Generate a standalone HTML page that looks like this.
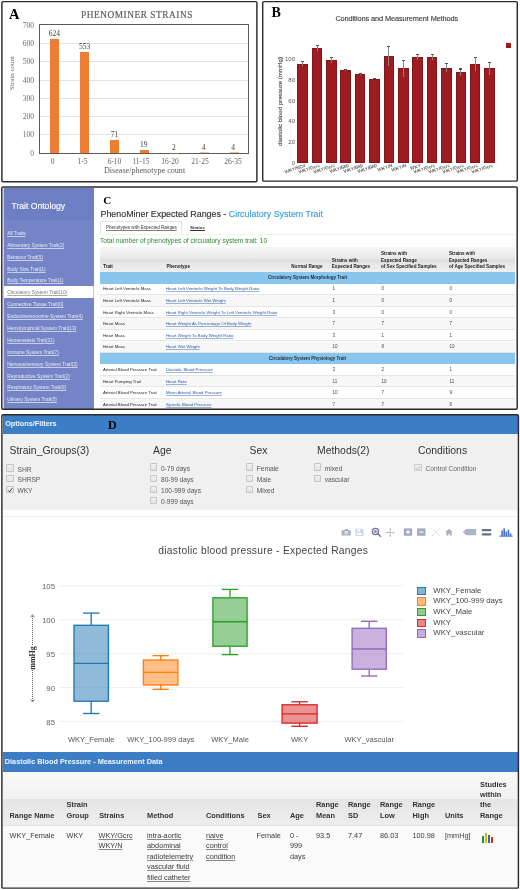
<!DOCTYPE html>
<html><head><meta charset="utf-8">
<style>
*{margin:0;padding:0;box-sizing:border-box}
html,body{width:520px;height:890px;overflow:hidden;background:#fff}
body{position:relative;font-family:"Liberation Sans",sans-serif;filter:blur(0.3px)}
.a{position:absolute}
.serif{font-family:"Liberation Serif",serif}
.box{position:absolute;border:2px solid #333}
/* panel A */
#pa .yt{position:absolute;width:20px;text-align:right;font-size:7.5px;color:#6a6a6a;line-height:8px}
#pa .xt{position:absolute;width:30px;text-align:center;font-size:7.5px;color:#606060;line-height:8px}
#pa .bar{position:absolute;background:#ed7d31;width:9.3px}
#pa .vl{position:absolute;width:30px;text-align:center;font-size:7.5px;color:#404040;line-height:8px}
#pa .gl{position:absolute;left:40px;width:208px;height:1px;background:#e2e2e2}
/* panel B */
#pb .bar{position:absolute;background:#9d1c21;width:10.6px;border:0.5px solid #84161a}
#pb .eb{position:absolute;width:1px;background:#858585}
#pb .ec{position:absolute;width:3px;height:1.2px;background:#555}
#pb .yt{position:absolute;width:20px;text-align:right;font-size:6px;color:#555;line-height:7px}
#pb .xl{position:absolute;font-size:4.7px;color:#222;white-space:nowrap;transform-origin:100% 0;transform:rotate(-18deg)}

/* panel C */
#pc .sb{position:absolute;left:7.2px;font-size:4.85px;color:#e6e9f8;text-decoration:underline;text-decoration-color:rgba(255,255,255,0.6);white-space:nowrap;line-height:6px}
#pc .th{position:absolute;font-size:4.6px;font-weight:bold;color:#222;line-height:6.2px;white-space:nowrap}
#pc .td{position:absolute;font-size:4.3px;color:#222;white-space:nowrap;line-height:6px}
#pc .lk{position:absolute;font-size:4.3px;color:#2858a8;text-decoration:underline;text-decoration-color:rgba(40,88,168,0.45);white-space:nowrap;line-height:6px}
#pc .num{position:absolute;font-size:4.5px;color:#444;line-height:6px}
#pc .row{position:absolute;left:100px;width:415px;height:11.6px;border-bottom:0.6px solid #e6e6e6}
#pc .sec{position:absolute;left:100px;width:415px;background:#88c6ee}
#pc .sect{position:absolute;left:100px;width:415px;text-align:center;font-size:4.5px;font-weight:bold;color:#1a2a3a;line-height:6px}

/* panel D */
#pd .og{position:absolute;font-size:10.4px;color:#333;white-space:nowrap;line-height:12px}
#pd .cb{position:absolute;width:7.3px;height:7.3px;border:0.9px solid #c6c6c6;background:linear-gradient(#f2f2f2,#e2e2e2);border-radius:0.8px}
#pd .cl{position:absolute;font-size:6.6px;color:#555;white-space:nowrap;line-height:8px}
#pd .yt{position:absolute;width:20px;text-align:right;font-size:7.8px;color:#606060;line-height:8px}
#pd .gl{position:absolute;left:59px;width:345px;height:0.8px;background:#eee}
#pd .xt{position:absolute;width:80px;text-align:center;font-size:7.55px;color:#555;line-height:8px;white-space:nowrap}
#pd .lg{position:absolute;left:417.4px;width:8.4px;height:8.4px;border:1.2px solid}
#pd .lt{position:absolute;left:433.3px;font-size:7.8px;color:#444;white-space:nowrap;line-height:8px}
#pd .hh{position:absolute;font-size:7.4px;font-weight:bold;color:#333;line-height:10.4px;white-space:nowrap}
#pd .dd{position:absolute;font-size:7.3px;color:#3a3a3a;line-height:10.5px;white-space:nowrap;top:830.5px}
#pd .du{text-decoration:underline;text-decoration-color:rgba(0,0,0,0.45)}
</style></head><body>

<!-- ============ PANEL A ============ -->
<div id="pa">
  <div class="a serif" style="left:9px;top:5.5px;font-size:14.5px;font-weight:bold;color:#000">A</div>
  <div class="a serif" style="left:81px;top:10.2px;font-size:9.3px;color:#5e5e5e;letter-spacing:0.55px;-webkit-text-stroke:0.2px #5e5e5e">PHENOMINER STRAINS</div>
  <!-- gridlines -->
  <div class="gl" style="top:43px"></div>
  <div class="gl" style="top:61px"></div>
  <div class="gl" style="top:80px"></div>
  <div class="gl" style="top:98px"></div>
  <div class="gl" style="top:116px"></div>
  <div class="gl" style="top:134px"></div>
  <!-- plot border -->
  <div class="a" style="left:39px;top:24px;width:210px;height:130px;border:1.2px solid #5a5a5a"></div>
  <!-- y ticks -->
  <div class="yt serif" style="left:14px;top:22.2px">700</div>
  <div class="yt serif" style="left:14px;top:40.2px">600</div>
  <div class="yt serif" style="left:14px;top:58.2px">500</div>
  <div class="yt serif" style="left:14px;top:77.2px">400</div>
  <div class="yt serif" style="left:14px;top:95.2px">300</div>
  <div class="yt serif" style="left:14px;top:113.2px">200</div>
  <div class="yt serif" style="left:14px;top:131.2px">100</div>
  <div class="yt serif" style="left:14px;top:150.2px">0</div>
  <!-- bars -->
  <div class="bar" style="left:49.6px;top:38.6px;height:114.4px"></div>
  <div class="bar" style="left:79.8px;top:51.6px;height:101.4px"></div>
  <div class="bar" style="left:109.8px;top:140px;height:13px"></div>
  <div class="bar" style="left:139.9px;top:149.5px;height:3.5px"></div>
  <div class="bar" style="left:169.9px;top:152.6px;height:0.6px;opacity:.5"></div>
  <div class="bar" style="left:199.9px;top:152.3px;height:0.8px;opacity:.5"></div>
  <div class="bar" style="left:229.9px;top:152.3px;height:0.8px;opacity:.5"></div>
  <!-- value labels -->
  <div class="vl serif" style="left:39.3px;top:30.2px">624</div>
  <div class="vl serif" style="left:69.5px;top:43.2px">553</div>
  <div class="vl serif" style="left:99.4px;top:131.2px">71</div>
  <div class="vl serif" style="left:128.8px;top:141.2px">19</div>
  <div class="vl serif" style="left:158.8px;top:144.2px">2</div>
  <div class="vl serif" style="left:188.5px;top:144.2px">4</div>
  <div class="vl serif" style="left:218.2px;top:144.2px">4</div>
  <!-- x ticks -->
  <div class="xt serif" style="left:37.5px;top:158.2px">0</div>
  <div class="xt serif" style="left:67.5px;top:158.2px">1-5</div>
  <div class="xt serif" style="left:99.5px;top:158.2px">6-10</div>
  <div class="xt serif" style="left:126px;top:158.2px">11-15</div>
  <div class="xt serif" style="left:155px;top:158.2px">16-20</div>
  <div class="xt serif" style="left:185px;top:158.2px">21-25</div>
  <div class="xt serif" style="left:218px;top:158.2px">26-35</div>
  <div class="a serif" style="left:104px;top:165.5px;font-size:8.1px;color:#595959">Disease/phenotype count</div>
  <div class="a serif" style="left:-9.7px;top:68.8px;width:44px;text-align:center;font-size:7px;color:#606060;transform:rotate(-90deg)">Strain count</div>
</div>

<!-- ============ PANEL B ============ -->
<div id="pb">
  <div class="a serif" style="left:271.5px;top:4.5px;font-size:14px;font-weight:bold;color:#000">B</div>
  <div class="a" style="left:335.4px;top:14px;font-size:7.35px;color:#3a3a3a;letter-spacing:-0.1px;-webkit-text-stroke:0.12px #3a3a3a">Conditions and Measurement Methods</div>

  <div class="yt" style="left:275px;top:56.4px">100</div>
  <div class="yt" style="left:275px;top:77.1px">80</div>
  <div class="yt" style="left:275px;top:97.8px">60</div>
  <div class="yt" style="left:275px;top:118.4px">40</div>
  <div class="yt" style="left:275px;top:139.1px">20</div>
  <div class="yt" style="left:275px;top:159.8px">0</div>
  <div class="a" style="left:234px;top:98px;width:90px;text-align:center;font-size:6.2px;color:#444;-webkit-text-stroke:0.1px #444;transform:rotate(-90deg);white-space:nowrap">diastolic blood pressure (mmHg)</div>
  <div class="a" style="left:506px;top:43px;width:5px;height:5px;background:#9b1b1f"></div>
  <div class="bar" style="left:297.3px;top:63.6px;height:99.1px"></div>
  <div class="bar" style="left:311.7px;top:48.3px;height:114.4px"></div>
  <div class="bar" style="left:326.1px;top:59.8px;height:102.9px"></div>
  <div class="bar" style="left:340.4px;top:70.1px;height:92.6px"></div>
  <div class="bar" style="left:354.8px;top:73.7px;height:89.0px"></div>
  <div class="bar" style="left:369.2px;top:78.6px;height:84.1px"></div>
  <div class="bar" style="left:383.6px;top:56px;height:106.7px"></div>
  <div class="bar" style="left:398.0px;top:68.4px;height:94.3px"></div>
  <div class="bar" style="left:412.3px;top:57px;height:105.7px"></div>
  <div class="bar" style="left:426.7px;top:57px;height:105.7px"></div>
  <div class="bar" style="left:441.1px;top:67.6px;height:95.1px"></div>
  <div class="bar" style="left:455.5px;top:72px;height:90.7px"></div>
  <div class="bar" style="left:469.9px;top:64px;height:98.7px"></div>
  <div class="bar" style="left:484.2px;top:68.2px;height:94.5px"></div>
  <div class="eb" style="left:302.1px;top:60.8px;height:5.6px"></div><div class="ec" style="left:301.1px;top:60.8px"></div>
  <div class="eb" style="left:316.5px;top:45.2px;height:6.2px"></div><div class="ec" style="left:315.5px;top:45.2px"></div>
  <div class="eb" style="left:330.9px;top:57px;height:5.6px"></div><div class="ec" style="left:329.9px;top:57px"></div>
  <div class="eb" style="left:345.2px;top:68.8px;height:2.6px"></div><div class="ec" style="left:344.2px;top:68.8px"></div>
  <div class="eb" style="left:359.6px;top:72.7px;height:2.0px"></div><div class="ec" style="left:358.6px;top:72.7px"></div>
  <div class="eb" style="left:374.0px;top:77.7px;height:1.8px"></div><div class="ec" style="left:373.0px;top:77.7px"></div>
  <div class="eb" style="left:388.4px;top:46px;height:20.0px"></div><div class="ec" style="left:387.4px;top:46px"></div>
  <div class="eb" style="left:402.8px;top:60px;height:16.8px"></div><div class="ec" style="left:401.8px;top:60px"></div>
  <div class="eb" style="left:417.1px;top:54px;height:6.0px"></div><div class="ec" style="left:416.1px;top:54px"></div>
  <div class="eb" style="left:431.5px;top:54px;height:6.0px"></div><div class="ec" style="left:430.5px;top:54px"></div>
  <div class="eb" style="left:445.9px;top:63.3px;height:8.6px"></div><div class="ec" style="left:444.9px;top:63.3px"></div>
  <div class="eb" style="left:460.3px;top:68.4px;height:7.2px"></div><div class="ec" style="left:459.3px;top:68.4px"></div>
  <div class="eb" style="left:474.7px;top:56.6px;height:14.8px"></div><div class="ec" style="left:473.7px;top:56.6px"></div>
  <div class="eb" style="left:489.0px;top:61.7px;height:13.0px"></div><div class="ec" style="left:488.0px;top:61.7px"></div>
  <div class="xl" style="right:215.4px;top:162.5px">WKY/NCrl</div>
  <div class="xl" style="right:201.0px;top:162.5px">WKY/Gcrc</div>
  <div class="xl" style="right:186.6px;top:162.5px">WKY/Gcrc</div>
  <div class="xl" style="right:172.3px;top:162.5px">WKY/Bkb</div>
  <div class="xl" style="right:157.9px;top:162.5px">WKY/Bkb</div>
  <div class="xl" style="right:143.5px;top:162.5px">WKY/Bkb</div>
  <div class="xl" style="right:129.1px;top:162.5px">WKY/N</div>
  <div class="xl" style="right:114.7px;top:162.5px">WKY/N</div>
  <div class="xl" style="right:100.4px;top:162.5px">WKY</div>
  <div class="xl" style="right:86.0px;top:162.5px">WKY/Gcrc</div>
  <div class="xl" style="right:71.6px;top:162.5px">WKY/Gcrc</div>
  <div class="xl" style="right:57.2px;top:162.5px">WKY/Gcrc</div>
  <div class="xl" style="right:42.8px;top:162.5px">WKY/Gcrc</div>
  <div class="xl" style="right:28.5px;top:162.5px">WKY/Gcrc</div>
</div>

<div id="pc">
  <div class="a" style="left:2.5px;top:188px;width:1.5px;height:220.5px;background:#c9cdef"></div>
  <div class="a" style="left:4px;top:188px;width:90.2px;height:31.5px;background:#6e7ec2"></div>
  <div class="a" style="left:4px;top:219.5px;width:90.2px;height:66.3px;background:#7484c6"></div>
  <div class="a" style="left:4px;top:285.8px;width:90.2px;height:12.5px;background:#fff;border-right:0.6px solid #ccc"></div>
  <div class="a" style="left:4px;top:298.3px;width:90.2px;height:110.5px;background:#7484c6"></div>
  <div class="a" style="left:11.5px;top:200.7px;font-size:8.6px;color:#f4f5fc;-webkit-text-stroke:0.2px #f4f5fc">Trait Ontology</div>
  <div class="sb" style="top:230.8px">All Traits</div>
  <div class="sb" style="top:242.8px">Alimentary System Trait(2)</div>
  <div class="sb" style="top:254.8px">Behavior Trait(5)</div>
  <div class="sb" style="top:266.6px">Body Size Trait(1)</div>
  <div class="sb" style="top:278.4px">Body Temperature Trait(1)</div>
  <div class="sb" style="top:290.3px;color:#777;text-decoration-color:#aaa">Circulatory System Trait(10)</div>
  <div class="sb" style="top:302.4px">Connective Tissue Trait(0)</div>
  <div class="sb" style="top:314.3px">Endocrine/exocrine System Trait(4)</div>
  <div class="sb" style="top:325.8px">Hemolymphoid System Trait(13)</div>
  <div class="sb" style="top:337.8px">Homeostasis Trait(31)</div>
  <div class="sb" style="top:349.8px">Immune System Trait(7)</div>
  <div class="sb" style="top:361.8px">Nervous/sensory System Trait(2)</div>
  <div class="sb" style="top:373.6px">Reproductive System Trait(2)</div>
  <div class="sb" style="top:385.1px">Respiratory System Trait(0)</div>
  <div class="sb" style="top:397.0px">Urinary System Trait(5)</div>
  <div class="a serif" style="left:103.3px;top:194px;font-size:11px;font-weight:bold;color:#000">C</div>
  <div class="a" style="left:100.5px;top:208.6px;font-size:8.9px;color:#333;white-space:nowrap;-webkit-text-stroke:0.15px">PhenoMiner Expected Ranges - <span style="color:#3aa2dc">Circulatory System Trait</span></div>
  <div class="a" style="left:99.6px;top:221.4px;width:82.7px;height:12.9px;border:0.7px solid #e2e2e2;border-bottom:none;background:#fff"></div>
  <div class="a" style="left:100.8px;top:233.9px;width:414px;height:0.6px;background:#f0f0f0"></div>
  <div class="a" style="left:106px;top:225px;font-size:4.57px;color:#333;text-decoration:underline;text-decoration-color:rgba(0,0,0,0.5);white-space:nowrap">Phenotypes with Expected Ranges</div>
  <div class="a" style="left:190px;top:225px;font-size:4.4px;font-weight:bold;color:#333;text-decoration:underline;white-space:nowrap">Strains</div>
  <div class="a" style="left:100px;top:237px;font-size:6.6px;color:#2d8a2d;white-space:nowrap">Total number of phenotypes of circulatory system trait: 10</div>
  <div class="a" style="left:100px;top:246.5px;width:415px;height:25px;background:linear-gradient(#f6f6f6 0%,#ebebeb 40%,#dfdfdf 56%,#eaeaea 75%,#eeeeee 100%)"></div>
  <div class="th" style="left:103.2px;top:263.8px">Trait</div>
  <div class="th" style="left:166.5px;top:263.8px">Phenotype</div>
  <div class="th" style="left:291.3px;top:263.8px">Normal Range</div>
  <div class="th" style="left:331.8px;top:257.6px">Strains with<br>Expected Ranges</div>
  <div class="th" style="left:381px;top:251.4px">Strains with<br>Expected Range<br>of Sex Specified Samples</div>
  <div class="th" style="left:449px;top:251.4px">Strains with<br>Expected Ranges<br>of Age Specified Samples</div>
  <div class="sec" style="top:271.5px;height:12px"></div>
  <div class="sect" style="top:274.6px">Circulatory System Morphology Trait</div>
  <div class="row" style="top:283.5px;background:#fff"></div>
  <div class="td" style="left:103px;top:286.4px">Heart Left Ventricle Mass</div>
  <div class="lk" style="left:166px;top:286.4px">Heart Left Ventricle Weight To Body Weight Ratio</div>
  <div class="num" style="left:332.5px;top:286.4px">1</div>
  <div class="num" style="left:381.5px;top:286.4px">0</div>
  <div class="num" style="left:449.5px;top:286.4px">0</div>
  <div class="row" style="top:295.1px;background:#f7f7f7"></div>
  <div class="td" style="left:103px;top:298.0px">Heart Left Ventricle Mass</div>
  <div class="lk" style="left:166px;top:298.0px">Heart Left Ventricle Wet Weight</div>
  <div class="num" style="left:332.5px;top:298.0px">1</div>
  <div class="num" style="left:381.5px;top:298.0px">0</div>
  <div class="num" style="left:449.5px;top:298.0px">0</div>
  <div class="row" style="top:306.7px;background:#fff"></div>
  <div class="td" style="left:103px;top:309.6px">Heart Right Ventricle Mass</div>
  <div class="lk" style="left:166px;top:309.6px">Heart Right Ventricle Weight To Left Ventricle Weight Ratio</div>
  <div class="num" style="left:332.5px;top:309.6px">3</div>
  <div class="num" style="left:381.5px;top:309.6px">0</div>
  <div class="num" style="left:449.5px;top:309.6px">0</div>
  <div class="row" style="top:318.3px;background:#f7f7f7"></div>
  <div class="td" style="left:103px;top:321.2px">Heart Mass</div>
  <div class="lk" style="left:166px;top:321.2px">Heart Weight As Percentage Of Body Weight</div>
  <div class="num" style="left:332.5px;top:321.2px">7</div>
  <div class="num" style="left:381.5px;top:321.2px">7</div>
  <div class="num" style="left:449.5px;top:321.2px">7</div>
  <div class="row" style="top:329.9px;background:#fff"></div>
  <div class="td" style="left:103px;top:332.8px">Heart Mass</div>
  <div class="lk" style="left:166px;top:332.8px">Heart Weight To Body Weight Ratio</div>
  <div class="num" style="left:332.5px;top:332.8px">3</div>
  <div class="num" style="left:381.5px;top:332.8px">1</div>
  <div class="num" style="left:449.5px;top:332.8px">1</div>
  <div class="row" style="top:341.5px;background:#f7f7f7"></div>
  <div class="td" style="left:103px;top:344.4px">Heart Mass</div>
  <div class="lk" style="left:166px;top:344.4px">Heart Wet Weight</div>
  <div class="num" style="left:332.5px;top:344.4px">10</div>
  <div class="num" style="left:381.5px;top:344.4px">8</div>
  <div class="num" style="left:449.5px;top:344.4px">10</div>
  <div class="sec" style="top:353.1px;height:11px"></div>
  <div class="sect" style="top:355.6px">Circulatory System Physiology Trait</div>
  <div class="row" style="top:364.1px;background:#fff"></div>
  <div class="td" style="left:103px;top:367.0px">Arterial Blood Pressure Trait</div>
  <div class="lk" style="left:166px;top:367.0px">Diastolic Blood Pressure</div>
  <div class="num" style="left:332.5px;top:367.0px">3</div>
  <div class="num" style="left:381.5px;top:367.0px">2</div>
  <div class="num" style="left:449.5px;top:367.0px">1</div>
  <div class="row" style="top:375.7px;background:#f7f7f7"></div>
  <div class="td" style="left:103px;top:378.6px">Heart Pumping Trait</div>
  <div class="lk" style="left:166px;top:378.6px">Heart Rate</div>
  <div class="num" style="left:332.5px;top:378.6px">11</div>
  <div class="num" style="left:381.5px;top:378.6px">10</div>
  <div class="num" style="left:449.5px;top:378.6px">11</div>
  <div class="row" style="top:387.3px;background:#fff"></div>
  <div class="td" style="left:103px;top:390.2px">Arterial Blood Pressure Trait</div>
  <div class="lk" style="left:166px;top:390.2px">Mean Arterial Blood Pressure</div>
  <div class="num" style="left:332.5px;top:390.2px">10</div>
  <div class="num" style="left:381.5px;top:390.2px">7</div>
  <div class="num" style="left:449.5px;top:390.2px">9</div>
  <div class="row" style="top:398.9px;background:#f7f7f7"></div>
  <div class="td" style="left:103px;top:401.8px">Arterial Blood Pressure Trait</div>
  <div class="lk" style="left:166px;top:401.8px">Systolic Blood Pressure</div>
  <div class="num" style="left:332.5px;top:401.8px">7</div>
  <div class="num" style="left:381.5px;top:401.8px">7</div>
  <div class="num" style="left:449.5px;top:401.8px">6</div>
</div>
<div id="pd">
  <div class="a" style="left:1px;top:414px;width:518px;height:476px;background:#fff"></div>
  <div class="a" style="left:2.6px;top:415.2px;width:515.4px;height:18.7px;background:#3b7ec6"></div>
  <div class="a" style="left:5.2px;top:419.2px;font-size:7.3px;font-weight:bold;color:#f0f6ff;white-space:nowrap">Options/Filters</div>
  <div class="a serif" style="left:108px;top:417.5px;font-size:12px;font-weight:bold;color:#000">D</div>
  <div class="a" style="left:2.6px;top:433.9px;width:514px;height:76.5px;background:#f0f0f0"></div>
  <div class="a" style="left:2.6px;top:516px;width:514px;height:0.8px;background:#ededed"></div>
  <div class="og" style="left:9.5px;top:445px">Strain_Groups(3)</div>
  <div class="og" style="left:153px;top:445px">Age</div>
  <div class="og" style="left:249.5px;top:445px">Sex</div>
  <div class="og" style="left:317px;top:445px">Methods(2)</div>
  <div class="og" style="left:418px;top:445px">Conditions</div>
  <div class="cb" style="left:6.3px;top:464.4px"></div>
  <div class="cl" style="left:17.5px;top:465.9px">SHR</div>
  <div class="cb" style="left:6.3px;top:474.6px"></div>
  <div class="cl" style="left:17.5px;top:476.1px">SHRSP</div>
  <div class="cb" style="left:6.3px;top:485.8px"><svg width="6" height="6" viewBox="0 0 6 6" style="position:absolute;left:0;top:0"><path d="M1.2 3.4 L2.6 4.9 L5.2 1.2" stroke="#2a3050" stroke-width="0.9" fill="none"/></svg></div>
  <div class="cl" style="left:17.5px;top:487.3px">WKY</div>
  <div class="cb" style="left:149.8px;top:463.4px"></div>
  <div class="cl" style="left:161.0px;top:464.9px">0-79 days</div>
  <div class="cb" style="left:149.8px;top:474.6px"></div>
  <div class="cl" style="left:161.0px;top:476.1px">80-99 days</div>
  <div class="cb" style="left:149.8px;top:485.6px"></div>
  <div class="cl" style="left:161.0px;top:487.1px">100-999 days</div>
  <div class="cb" style="left:149.8px;top:496.6px"></div>
  <div class="cl" style="left:161.0px;top:498.1px">0-999 days</div>
  <div class="cb" style="left:245.6px;top:463.4px"></div>
  <div class="cl" style="left:256.8px;top:464.9px">Female</div>
  <div class="cb" style="left:245.6px;top:474.6px"></div>
  <div class="cl" style="left:256.8px;top:476.1px">Male</div>
  <div class="cb" style="left:245.6px;top:485.6px"></div>
  <div class="cl" style="left:256.8px;top:487.1px">Mixed</div>
  <div class="cb" style="left:313.6px;top:463.4px"></div>
  <div class="cl" style="left:324.8px;top:464.9px">mixed</div>
  <div class="cb" style="left:313.6px;top:474.6px"></div>
  <div class="cl" style="left:324.8px;top:476.1px">vascular</div>
  <div class="cb" style="left:414.3px;top:463.8px;border-color:#ccc"><svg width="6" height="6" viewBox="0 0 6 6" style="position:absolute;left:0;top:0"><path d="M0.8 3.2 L2.3 4.7 L5.2 1" stroke="#bbb" stroke-width="0.9" fill="none"/></svg></div>
  <div class="cl" style="left:425.5px;top:465.3px;color:#666">Control Condition</div>
<svg class="a" style="left:0;top:0" width="520" height="890" viewBox="0 0 520 890">
<line x1="59" x2="403.3" y1="585.9" y2="585.9" stroke="#eee" stroke-width="0.9"/>
<line x1="59" x2="403.3" y1="619.8" y2="619.8" stroke="#eee" stroke-width="0.9"/>
<line x1="59" x2="403.3" y1="653.7" y2="653.7" stroke="#eee" stroke-width="0.9"/>
<line x1="59" x2="403.3" y1="687.5" y2="687.5" stroke="#eee" stroke-width="0.9"/>
<line x1="59" x2="403.3" y1="721.4" y2="721.4" stroke="#eee" stroke-width="0.9"/>
<rect x="74" y="625.3" width="34.4" height="75.9" fill="rgba(31,119,180,0.5)" stroke="rgb(31,119,180)" stroke-width="1.35"/>
<line x1="74" x2="108.4" y1="663.3" y2="663.3" stroke="rgb(31,119,180)" stroke-width="1.35"/>
<line x1="91.2" x2="91.2" y1="613.1" y2="625.3" stroke="rgb(31,119,180)" stroke-width="1.35"/>
<line x1="91.2" x2="91.2" y1="701.2" y2="713.5" stroke="rgb(31,119,180)" stroke-width="1.35"/>
<line x1="83.0" x2="99.4" y1="613.1" y2="613.1" stroke="rgb(31,119,180)" stroke-width="1.35"/>
<line x1="83.0" x2="99.4" y1="713.5" y2="713.5" stroke="rgb(31,119,180)" stroke-width="1.35"/>
<rect x="143.4" y="660" width="34.5" height="25.0" fill="rgba(255,127,14,0.5)" stroke="rgb(255,127,14)" stroke-width="1.35"/>
<line x1="143.4" x2="177.9" y1="672.4" y2="672.4" stroke="rgb(255,127,14)" stroke-width="1.35"/>
<line x1="160.7" x2="160.7" y1="655.7" y2="660" stroke="rgb(255,127,14)" stroke-width="1.35"/>
<line x1="160.7" x2="160.7" y1="685" y2="689.3" stroke="rgb(255,127,14)" stroke-width="1.35"/>
<line x1="152.5" x2="168.8" y1="655.7" y2="655.7" stroke="rgb(255,127,14)" stroke-width="1.35"/>
<line x1="152.5" x2="168.8" y1="689.3" y2="689.3" stroke="rgb(255,127,14)" stroke-width="1.35"/>
<rect x="212.9" y="597.8" width="34.2" height="48.4" fill="rgba(44,160,44,0.5)" stroke="rgb(44,160,44)" stroke-width="1.35"/>
<line x1="212.9" x2="247.1" y1="621.7" y2="621.7" stroke="rgb(44,160,44)" stroke-width="1.35"/>
<line x1="230.0" x2="230.0" y1="589.4" y2="597.8" stroke="rgb(44,160,44)" stroke-width="1.35"/>
<line x1="230.0" x2="230.0" y1="646.2" y2="654.6" stroke="rgb(44,160,44)" stroke-width="1.35"/>
<line x1="221.8" x2="238.2" y1="589.4" y2="589.4" stroke="rgb(44,160,44)" stroke-width="1.35"/>
<line x1="221.8" x2="238.2" y1="654.6" y2="654.6" stroke="rgb(44,160,44)" stroke-width="1.35"/>
<rect x="282.1" y="704.8" width="35.0" height="18.3" fill="rgba(214,39,40,0.5)" stroke="rgb(214,39,40)" stroke-width="1.35"/>
<line x1="282.1" x2="317.1" y1="713.9" y2="713.9" stroke="rgb(214,39,40)" stroke-width="1.35"/>
<line x1="299.6" x2="299.6" y1="701.8" y2="704.8" stroke="rgb(214,39,40)" stroke-width="1.35"/>
<line x1="299.6" x2="299.6" y1="723.1" y2="726.3" stroke="rgb(214,39,40)" stroke-width="1.35"/>
<line x1="291.4" x2="307.8" y1="701.8" y2="701.8" stroke="rgb(214,39,40)" stroke-width="1.35"/>
<line x1="291.4" x2="307.8" y1="726.3" y2="726.3" stroke="rgb(214,39,40)" stroke-width="1.35"/>
<rect x="352.1" y="628.3" width="34.2" height="40.9" fill="rgba(148,103,189,0.5)" stroke="rgb(148,103,189)" stroke-width="1.35"/>
<line x1="352.1" x2="386.3" y1="649" y2="649" stroke="rgb(148,103,189)" stroke-width="1.35"/>
<line x1="369.2" x2="369.2" y1="621.3" y2="628.3" stroke="rgb(148,103,189)" stroke-width="1.35"/>
<line x1="369.2" x2="369.2" y1="669.2" y2="676" stroke="rgb(148,103,189)" stroke-width="1.35"/>
<line x1="361.0" x2="377.4" y1="621.3" y2="621.3" stroke="rgb(148,103,189)" stroke-width="1.35"/>
<line x1="361.0" x2="377.4" y1="676" y2="676" stroke="rgb(148,103,189)" stroke-width="1.35"/>
</svg>
  <div class="yt" style="left:35px;top:583.0px">105</div>
  <div class="yt" style="left:35px;top:616.9px">100</div>
  <div class="yt" style="left:35px;top:650.8px">95</div>
  <div class="yt" style="left:35px;top:684.6px">90</div>
  <div class="yt" style="left:35px;top:718.5px">85</div>
  <div class="xt" style="left:51.2px;top:735.8px">WKY_Female</div>
  <div class="xt" style="left:120.7px;top:735.8px">WKY_100-999 days</div>
  <div class="xt" style="left:190.0px;top:735.8px">WKY_Male</div>
  <div class="xt" style="left:259.6px;top:735.8px">WKY</div>
  <div class="xt" style="left:329.2px;top:735.8px">WKY_vascular</div>
  <div class="a serif" style="left:12.5px;top:653.5px;width:40px;text-align:center;font-size:8px;font-weight:bold;color:#333;transform:rotate(-90deg);transform-origin:20px 4px;left:12.8px;white-space:nowrap;line-height:8px">mmHg</div>
  <svg class="a" style="left:0;top:0" width="520" height="890" viewBox="0 0 520 890"><g stroke="#666" stroke-width="1" fill="none"><path d="M32.5 616 V645 M32.5 670 V701" stroke-dasharray="1 1"/><path d="M30.6 617.3 L32.5 614.6 L34.4 617.3 M30.6 699.3 L32.5 702 L34.4 699.3" stroke-width="0.8"/></g></svg>
  <div class="a" style="left:158.3px;top:544.6px;font-size:10.3px;letter-spacing:0.27px;color:#444;white-space:nowrap">diastolic blood pressure - Expected Ranges</div>
  <div class="lg" style="top:586.7px;border-color:rgb(31,119,180);background:rgba(31,119,180,0.55)"></div>
  <div class="lt" style="top:586.6px">WKY_Female</div>
  <div class="lg" style="top:597.4px;border-color:rgb(255,127,14);background:rgba(255,127,14,0.55)"></div>
  <div class="lt" style="top:597.3px">WKY_100-999 days</div>
  <div class="lg" style="top:608.1px;border-color:rgb(44,160,44);background:rgba(44,160,44,0.55)"></div>
  <div class="lt" style="top:608.0px">WKY_Male</div>
  <div class="lg" style="top:618.7px;border-color:rgb(214,39,40);background:rgba(214,39,40,0.55)"></div>
  <div class="lt" style="top:618.6px">WKY</div>
  <div class="lg" style="top:629.4px;border-color:rgb(148,103,189);background:rgba(148,103,189,0.55)"></div>
  <div class="lt" style="top:629.3px">WKY_vascular</div>
  <div class="a" style="left:2.6px;top:752.1px;width:515.4px;height:19.7px;background:#3b7ec6"></div>
  <div class="a" style="left:4.8px;top:757px;font-size:7.3px;font-weight:bold;color:#f0f6ff;white-space:nowrap">Diastolic Blood Pressure - Measurement Data</div>
  <div class="a" style="left:2.6px;top:771.8px;width:514px;height:27px;background:linear-gradient(#f9f9fa,#f1f1f2)"></div>
  <div class="a" style="left:2.6px;top:798.8px;width:514px;height:26.2px;background:linear-gradient(#e4e4e4,#eeeeee)"></div>
  <div class="a" style="left:2.6px;top:825px;width:514px;height:63px;background:#fafafb;border-top:0.8px solid #e2e2e2"></div>
  <div class="hh" style="left:9.5px;top:810.7px">Range Name</div>
  <div class="hh" style="left:66.5px;top:800.3px">Strain<br>Group</div>
  <div class="hh" style="left:99.2px;top:810.7px">Strains</div>
  <div class="hh" style="left:147px;top:810.7px">Method</div>
  <div class="hh" style="left:206px;top:810.7px">Conditions</div>
  <div class="hh" style="left:257.5px;top:810.7px">Sex</div>
  <div class="hh" style="left:290px;top:810.7px">Age</div>
  <div class="hh" style="left:316px;top:800.3px">Range<br>Mean</div>
  <div class="hh" style="left:348px;top:800.3px">Range<br>SD</div>
  <div class="hh" style="left:380px;top:800.3px">Range<br>Low</div>
  <div class="hh" style="left:412.5px;top:800.3px">Range<br>High</div>
  <div class="hh" style="left:445px;top:810.7px">Units</div>
  <div class="hh" style="left:480px;top:779.5px">Studies<br>within<br>the<br>Range</div>
  <div class="dd" style="left:9.5px">WKY_Female</div>
  <div class="dd" style="left:66.5px">WKY</div>
  <div class="dd du" style="left:98.5px">WKY/Gcrc<br>WKY/N</div>
  <div class="dd du" style="left:147px">intra-aortic<br>abdominal<br>radiotelemetry<br>vascular fluid<br>filled catheter</div>
  <div class="dd du" style="left:206px">naive<br>control<br>condition</div>
  <div class="dd" style="left:256.5px">Female</div>
  <div class="dd" style="left:290px">0 -<br>999<br>days</div>
  <div class="dd" style="left:316px">93.5</div>
  <div class="dd" style="left:348px">7.47</div>
  <div class="dd" style="left:380px">86.03</div>
  <div class="dd" style="left:412.5px">100.98</div>
  <div class="dd" style="left:445px">[mmHg]</div>
  <div class="a" style="left:481.5px;top:836px;width:2px;height:6.5px;background:#2a8a3a"></div>
  <div class="a" style="left:484.5px;top:833px;width:2px;height:9.5px;background:#e8b400"></div>
  <div class="a" style="left:487.5px;top:834.5px;width:2px;height:8px;background:#1f77b4"></div>
  <div class="a" style="left:490.5px;top:836.5px;width:2px;height:6px;background:#d62728"></div>
<svg class="a" style="left:0;top:520px" width="520" height="22" viewBox="0 520 520 22">
 <!-- camera -->
 <g fill="#aab0c4">
  <path d="M341.6 530.3 h2.6 l1 -1.3 h2.4 l1 1.3 h2.2 v5.2 h-9.2 z"/>
 </g>
 <circle cx="346.2" cy="532.8" r="1.7" fill="#fff"/>
 <circle cx="346.2" cy="532.8" r="0.9" fill="#aab0c4"/>
 <!-- floppy -->
 <path d="M355.5 528.8 h6.4 l1.4 1.4 v5.8 h-7.8 z" fill="#c9cdd9"/>
 <rect x="357" y="529.4" width="3.6" height="2" fill="#fff"/>
 <rect x="356.6" y="532.6" width="5.4" height="2.6" fill="#fff"/>
 <!-- zoom -->
 <circle cx="375.5" cy="531.5" r="3.1" fill="none" stroke="#6c7498" stroke-width="1.35"/>
 <rect x="374.3" y="530.3" width="2.4" height="2.4" fill="#6c7498"/>
 <path d="M377.6 533.6 L381 536.8" stroke="#6c7498" stroke-width="1.35"/>
 <!-- pan -->
 <g stroke="#b9bdca" stroke-width="0.9" fill="none">
  <path d="M386 532.5 h8.5 M390.25 528.2 v8.6"/>
 </g>
 <g fill="#b9bdca">
  <path d="M385.8 532.5 l1.5 -1.3 v2.6z M394.7 532.5 l-1.5 -1.3 v2.6z M390.25 528 l-1.3 1.5 h2.6z M390.25 537 l-1.3 -1.5 h2.6z"/>
 </g>
 <!-- zoom in -->
 <rect x="403.8" y="528.4" width="8.3" height="7.4" fill="#a3aac2"/>
 <path d="M405.9 532.1 h4.1 M407.95 530.1 v4" stroke="#fff" stroke-width="1.1"/>
 <!-- zoom out -->
 <rect x="417" y="528.4" width="8.5" height="7.4" fill="#a3aac2"/>
 <path d="M419 532.1 h4.5" stroke="#fff" stroke-width="1.1"/>
 <!-- autoscale -->
 <g stroke="#c3c7d3" stroke-width="0.9" stroke-dasharray="1.2 0.8" fill="none">
  <path d="M431.5 528.2 L440.2 536.4 M440.2 528.2 L431.5 536.4"/>
 </g>
 <!-- home -->
 <path d="M449 528.8 l-3.8 3.4 h1.2 v3.4 h2 v-2 h1.2 v2 h2 v-3.4 h1.2 z" fill="#a9afc1"/>
 <!-- closest -->
 <path d="M462.8 532.1 l3.4 -3.2 h10 v6.4 h-10 z" fill="#aab5cd"/>
 <!-- compare -->
 <rect x="481.6" y="529.1" width="9.8" height="2.1" rx="1" fill="#6b7181"/>
 <rect x="481.6" y="533.3" width="9.8" height="2.3" rx="1" fill="#6b7181"/>
 <!-- plotly -->
 <g fill="#4470c8">
  <rect x="499.3" y="535.6" width="13.4" height="1.1"/>
  <rect x="501.3" y="530.5" width="1.6" height="5.4"/>
  <rect x="503.4" y="528.3" width="1.6" height="7.6"/>
  <rect x="505.5" y="531.5" width="1.6" height="4.4"/>
  <rect x="507.6" y="529.8" width="1.6" height="6.1"/>
  <rect x="509.7" y="533.3" width="1.6" height="2.6"/>
 </g>
</svg>
</div>
<svg class="a" style="left:0;top:0;z-index:10" width="520" height="890" viewBox="0 0 520 890">
 <g fill="none" stroke="#2b2b2b" stroke-width="1.45">
  <rect x="1.9" y="1.6" width="255" height="180.2" rx="1.2"/>
  <rect x="262.7" y="1.6" width="254.6" height="179.5" rx="1.2"/>
  <rect x="1.8" y="186.9" width="515.4" height="222.4" rx="1.2"/>
  <rect x="1.9" y="414.7" width="516.5" height="473.4" rx="1.2"/>
 </g>
</svg>
</body></html>
